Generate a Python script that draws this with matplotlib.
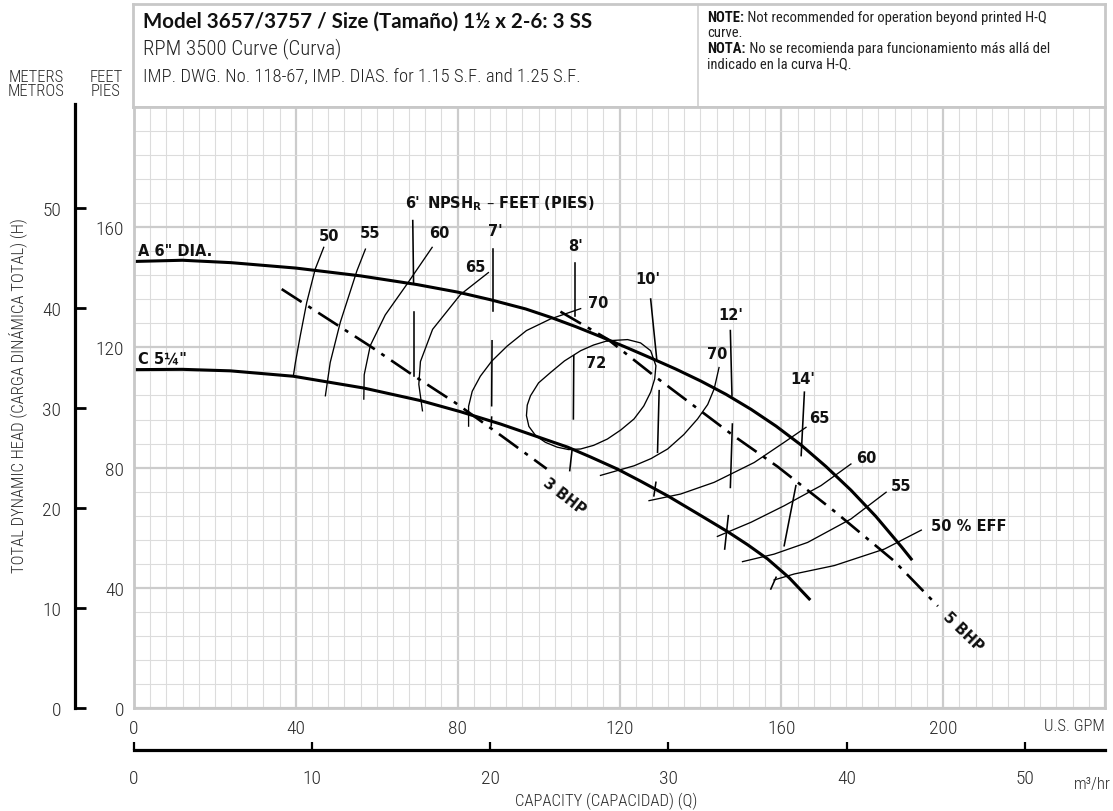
import numpy as np
import matplotlib
matplotlib.use("Agg")
import matplotlib.pyplot as plt

W, H = 1113, 812
GPM_PER_M3H = 4.403

# head-capacity curves (U.S. GPM, feet)
a_q = [0, 12, 24, 40, 56, 70, 80, 88, 96.8, 103, 109.2, 115.3, 121.5, 127.7, 133.9, 140.1, 146.3,
       152.5, 158.7, 164.9, 171.0, 177.2, 183.4, 189.6, 192.1]
a_h = [148.6, 149.0, 148.2, 146.4, 143.8, 140.9, 138.4, 135.9, 132.8, 130.0, 126.9, 123.6, 120.1,
       116.5, 112.8, 108.8, 104.4, 99.4, 93.8, 87.5, 80.4, 72.5, 63.7, 53.8, 49.6]
c_q = [0, 11.9, 23.8, 39.4, 56.7, 70.8, 80.7, 90.6, 98.8, 107.2, 112.9, 119.5, 125.2, 131.9, 139.4,
       146.7, 151.7, 156.6, 161.9, 166.9]
c_h = [112.6, 112.7, 112.2, 110.4, 106.5, 102.3, 98.6, 94.5, 90.7, 86.8, 83.5, 79.5, 75.5, 70.6, 64.6,
       58.7, 54.3, 49.6, 43.4, 36.3]

# brake horsepower lines
bhp3_q = [36.5, 48, 58.5, 69, 79.5, 91, 102]
bhp3_h = [139.4, 129.4, 120.3, 110.7, 101.5, 90.4, 79.6]
bhp5_q = [105.4, 117.0, 128.5, 148.3, 159.1, 173.0, 187.9, 198.7]
bhp5_h = [131.9, 122.8, 110.6, 90.5, 80.3, 65.6, 48.9, 33.9]

# efficiency contours
eff_curves = {
    "50L": ([46.9, 44.8, 42.7, 41.1, 39.9, 39.4], [153.3, 146.1, 135.0, 123.9, 115.0, 110.6]),
    "55L": ([57.2, 55.1, 51.0, 48.5, 47.3], [152.7, 145.5, 128.4, 115.0, 103.9]),
    "60L": ([73.7, 67.5, 62.1, 58.4, 56.9, 56.8], [153.3, 141.1, 130.8, 120.6, 110.9, 102.8]),
    "65L": ([87.6, 80.7, 73.8, 70.8, 70.4, 71.3], [144.9, 137.6, 126.0, 115.3, 107.7, 98.9]),
    "70L": ([110.4, 103.0, 97.0, 92.2, 88.4, 85.6, 83.6, 82.7, 82.7],
            [132.9, 129.5, 125.6, 120.4, 115.4, 110.4, 105.4, 100.4, 93.8]),
    "70R": ([144.6, 143.4, 141.8, 139.3, 135.9, 131.9, 127.8, 123.6, 115.3],
            [113.3, 106.2, 101.0, 96.2, 91.0, 86.2, 83.0, 80.6, 77.4]),
    "72": ([117.0, 122.0, 125.2, 127.7, 129.0, 128.7, 127.7, 126.0, 123.6, 120.3, 117.0, 113.6, 110.4,
            107.4, 104.6, 101.7, 99.3, 97.6, 97.0, 97.2, 98.0, 100.0, 103.0, 106.4, 110.4, 113.6, 117.0],
           [122.2, 122.6, 121.5, 118.9, 113.9, 109.5, 105.1, 100.5, 96.2, 92.5, 89.5, 87.4, 86.2,
            86.0, 86.8, 88.4, 90.6, 93.7, 97.3, 100.8, 103.9, 108.2, 111.7, 115.5, 118.9, 120.8, 122.2]),
    "65R": ([166.1, 160.7, 153.3, 143.4, 135.1, 127.3], [93.4, 88.4, 81.7, 75.1, 71.2, 69.0]),
    "60R": ([177.2, 169.8, 160.7, 152.5, 144.2], [81.2, 74.0, 67.3, 61.8, 57.1]),
    "55R": ([185.9, 177.2, 166.5, 158.2, 150.4], [71.8, 62.9, 55.1, 51.2, 48.7]),
    "50R": ([194.6, 185.5, 173.1, 163.2, 158.2], [59.2, 52.9, 47.4, 44.6, 42.6]),
}

# NPSH required marks: (q_top, h_top, q_bottom, h_bottom)
npsh_marks = [
    (68.9, 162.2, 69.1, 141.6), (69.1, 131.7, 69.1, 110.6),
    (88.8, 152.7, 88.8, 132.2), (88.5, 122.2, 88.4, 100.6), (88.4, 96.8, 88.3, 93.9),
    (108.9, 148.0, 108.9, 130.5), (108.7, 117.2, 108.6, 96.2), (108.3, 86.2, 107.7, 79.0),
    (127.7, 136.1, 129.2, 116.1), (129.8, 105.6, 129.4, 85.1), (129.0, 75.1, 128.5, 70.6),
    (147.4, 125.6, 147.8, 103.9), (147.9, 94.5, 147.4, 73.4), (146.9, 64.0, 146.0, 52.9),
    (165.7, 105.1, 164.9, 84.0), (163.6, 74.0, 160.7, 54.0), (158.7, 43.5, 157.4, 39.6),
]

# text labels on the chart: (text, q, h)
eff_labels = [("50", 48.3, 157.4), ("55", 58.4, 158.4), ("60", 75.5, 158.4), ("65", 84.4, 146.8),
              ("70", 114.8, 134.8), ("72", 114.1, 115.1), ("70", 144.2, 118.1), ("65", 169.4, 96.7),
              ("60", 180.9, 83.4), ("55", 189.6, 74.0)]
npsh_labels = [("7'", 89.4, 158.8), ("8'", 109.2, 153.8), ("10'", 126.9, 142.8),
               ("12'", 147.5, 131.1), ("14'", 165.3, 109.5)]

gpm_ticks = [0, 40, 80, 120, 160, 200]
ft_ticks = [0, 40, 80, 120, 160]
m_ticks = [0, 10, 20, 30, 40, 50]
m3h_ticks = [0, 10, 20, 30, 40, 50]

COND = ["Roboto Condensed", "Asap Condensed", "Archivo Narrow", "DejaVu Sans"]
BOLD = ["DejaVu Sans"]
TITLE = ["Lato", "DejaVu Sans"]
GRAY_TXT = "#2a2a2a"
INK = "#111111"


def px(x, y):
    return x / W, 1 - y / H


fig = plt.figure(figsize=(W / 100, H / 100), dpi=100)

# header box
hax = fig.add_axes([133 / W, 1 - 108 / H, (1105 - 133) / W, (108 - 5) / H])
hax.set_xlim(0, 1)
hax.set_ylim(0, 1)
hax.set_xticks([])
hax.set_yticks([])
for s in hax.spines.values():
    s.set_color("#c8c8c8")
    s.set_linewidth(2)
hax.axvline((698 - 133) / (1105 - 133), color="#d0d0d0", lw=1.2)

fig.text(*px(143, 22), "Model 3657/3757 / Size (Tamaño) 1½ x 2-6: 3 SS", family=TITLE,
         weight="bold", fontsize=14.8, va="center", color=INK)
fig.text(*px(143, 49), "RPM 3500 Curve (Curva)", family=COND, weight="light", fontsize=15,
         va="center", color="#222222")
fig.text(*px(143, 77), "IMP. DWG. No. 118-67, IMP. DIAS. for 1.15 S.F. and 1.25 S.F.", family=COND,
         weight="light", fontsize=13.4, va="center", color="#222222")
note_lines = [(18, "NOTE:", " Not recommended for operation beyond printed H-Q"), (33, "", "curve."),
              (49, "NOTA:", " No se recomienda para funcionamiento más allá del"),
              (64, "", "indicado en la curva H-Q.")]
fig.canvas.draw()
for y, b, rest in note_lines:
    x0 = 707 / W
    if b:
        t = fig.text(*px(707, y), b, family=COND, weight="bold", fontsize=10.5, va="center", color=INK)
        x0 = t.get_window_extent(renderer=fig.canvas.get_renderer()).x1 / W
    fig.text(x0, 1 - y / H, rest, family=COND, fontsize=10.5, va="center", color="#222222")

# main chart
ax = fig.add_axes([134 / W, 1 - 709 / H, (1105 - 134) / W, (709 - 108) / H])
ax.set_xlim(0, 240)
ax.set_ylim(0, 200)
ax.set_xticks(list(range(0, 241, 40)))
ax.set_xticklabels([str(v) if v in gpm_ticks else "" for v in range(0, 241, 40)])
ax.set_xticks(np.arange(0, 241, 4), minor=True)
ax.set_yticks(list(range(0, 201, 40)))
ax.set_yticklabels([str(v) if v in ft_ticks else "" for v in range(0, 201, 40)])
ax.set_yticks(np.arange(0, 201, 8), minor=True)
ax.grid(which="minor", color="#dcdcdc", lw=0.8)
ax.grid(which="major", color="#cccccc", lw=1.6)
ax.set_axisbelow(True)
ax.tick_params(which="both", length=0)
ax.tick_params(axis="x", pad=8, labelcolor=GRAY_TXT)
ax.tick_params(axis="y", pad=7, labelcolor=GRAY_TXT)
for lab in ax.get_xticklabels() + ax.get_yticklabels():
    lab.set_family(COND)
    lab.set_weight("light")
    lab.set_fontsize(14)
for s in ax.spines.values():
    s.set_color("#c8c8c8")
    s.set_linewidth(2)

# head curves
for q, h in [(a_q, a_h), (c_q, c_h)]:
    ax.plot(q, h, color="black", lw=2.2, solid_joinstyle="round")

# BHP lines
for q, h in [(bhp3_q, bhp3_h), (bhp5_q, bhp5_h)]:
    ax.plot(q, h, color="black", lw=1.9, dashes=(9, 3, 1.5, 3))

# efficiency contours
for q, h in eff_curves.values():
    ax.plot(q, h, color="black", lw=0.95, solid_joinstyle="round")

# NPSH marks
for q0, h0, q1, h1 in npsh_marks:
    ax.plot([q0, q1], [h0, h1], color="black", lw=1.15)

lab_kw = dict(family=BOLD, weight="bold", fontsize=10.5, color=INK, va="center")
for t, q, h in eff_labels + npsh_labels:
    ax.text(q, h, t, ha="center", **lab_kw)
ax.text(197.0, 60.7, "50 % EFF", ha="left", **lab_kw)
ax.text(68.7, 168.1, "6'", ha="center", **lab_kw)
ax.text(72.3, 168.1, r"NPSH$_{\mathbf{R}}$ – FEET (PIES)", ha="left", **lab_kw)
ax.text(1.0, 152.2, 'A 6" DIA.', ha="left", **lab_kw)
ax.text(1.0, 116.5, 'C 5¼"', ha="left", **lab_kw)
ax.text(106.4, 70.5, "3 BHP", ha="center", rotation=-38, rotation_mode="anchor", **lab_kw)
ax.text(205.0, 25.6, "5 BHP", ha="center", rotation=-44, rotation_mode="anchor", **lab_kw)

# m3/hr axis below
sec = ax.secondary_xaxis(-42 / 601, functions=(lambda q: np.asarray(q) / GPM_PER_M3H,
                                               lambda m: np.asarray(m) * GPM_PER_M3H))
sec.set_xticks(m3h_ticks)
sec.spines["bottom"].set_linewidth(2.3)
sec.spines["bottom"].set_color("black")
sec.tick_params(direction="in", length=6, width=1.6, pad=14, labelcolor=GRAY_TXT, labelsize=14)
for lab in sec.get_xticklabels():
    lab.set_family(COND)
    lab.set_weight("light")

# meters axis at far left
mx = fig.add_axes([75 / W, 1 - 709 / H, 0.01, (709 - 105) / H])
mx.patch.set_visible(False)
mx.set_ylim(0, 60.4)
mx.set_xticks([])
mx.set_yticks(m_ticks)
for k in ["top", "right", "bottom"]:
    mx.spines[k].set_visible(False)
mx.spines["left"].set_linewidth(2.3)
mx.tick_params(axis="y", direction="in", length=8, width=2, pad=10, labelcolor=GRAY_TXT, labelsize=14)
for lab in mx.get_yticklabels():
    lab.set_family(COND)
    lab.set_weight("light")

# outer captions
cap_kw = dict(family=COND, weight="light", fontsize=12, color=GRAY_TXT, va="center")
fig.text(*px(36, 77), "METERS", ha="center", **cap_kw)
fig.text(*px(36, 92), "METROS", ha="center", **cap_kw)
fig.text(*px(106, 77), "FEET", ha="center", **cap_kw)
fig.text(*px(106, 92), "PIES", ha="center", **cap_kw)
fig.text(*px(18, 396), "TOTAL DYNAMIC HEAD (CARGA DINÁMICA TOTAL) (H)", ha="center", rotation=90, **cap_kw)
fig.text(*px(1105, 727), "U.S. GPM", ha="right", **cap_kw)
fig.text(*px(1111, 785), "m³/hr", ha="right", **cap_kw)
fig.text(*px(606, 801), "CAPACITY (CAPACIDAD) (Q)", ha="center", **cap_kw)

fig.savefig("out.png", dpi=100)
